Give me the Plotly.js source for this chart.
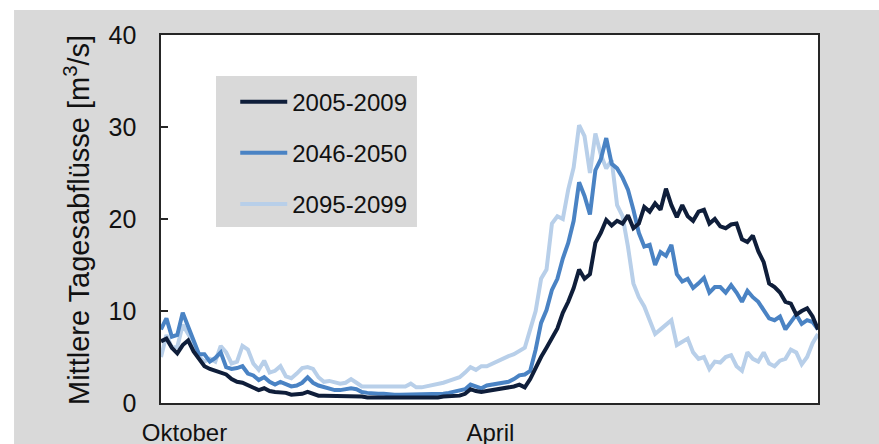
<!DOCTYPE html>
<html>
<head>
<meta charset="utf-8">
<script src="https://cdn.plot.ly/plotly-3.0.1.min.js"></script>
<style>html,body{margin:0;padding:0;background:#fff;}#chart{width:879px;height:444px;}</style>
</head>
<body>
<div id="chart"></div>
<script>
// Day step (every 3rd day of the hydrological year, starting 1 October)
const dayStep = 3;

const seriesNames = ['2005-2009', '2046-2050', '2095-2099'];

const q2005 = [
  6.7, 7.0, 6.0, 5.4, 6.3, 6.8, 5.6, 4.8, 4.0, 3.7,
  3.5, 3.4, 3.1, 2.6, 2.3, 2.2, 1.9, 1.7, 1.4, 1.6,
  1.3, 1.2, 1.2, 1.1, 0.9, 0.9, 1.0, 1.2, 1.0, 0.8,
  0.8, 0.8, 0.8, 0.7, 0.7, 0.8, 0.7, 0.7, 0.6, 0.6,
  0.6, 0.5, 0.5, 0.5, 0.5, 0.5, 0.5, 0.5, 0.5, 0.6,
  0.6, 0.6, 0.7, 0.7, 0.8, 0.8, 1.0, 1.5, 1.3, 1.2,
  1.3, 1.4, 1.5, 1.5, 1.6, 1.8, 2.0, 1.7, 2.6, 3.9,
  5.0, 6.0, 7.0, 8.1, 9.8, 11.0, 12.5, 14.5, 13.5, 14.0,
  17.4, 18.5, 19.9, 19.3, 19.8, 19.5, 20.4, 19.0, 19.5, 21.3,
  20.8, 21.7, 21.0, 23.3, 21.5, 20.2, 21.5, 20.3, 19.8, 20.8,
  21.0, 19.5, 20.0, 19.2, 19.0, 19.4, 19.5, 17.8, 17.5, 18.2,
  16.5, 15.3, 13.0, 12.6, 12.0, 11.0, 10.8, 9.6, 10.0, 10.3,
  9.4, 8.0
];

const q2046 = [
  8.0, 9.2, 7.2, 7.4, 9.8, 8.3, 7.0, 5.3, 5.3, 4.5,
  4.9, 5.5, 3.9, 3.7, 3.8, 4.0, 3.2, 3.0, 2.5, 2.8,
  2.3, 2.0, 2.3, 2.0, 1.8, 1.9, 2.2, 2.8, 2.2, 1.9,
  1.7, 1.6, 1.4, 1.4, 1.5, 1.6, 1.5, 1.2, 1.1, 1.0,
  1.0, 1.0, 0.9, 0.9, 0.9, 0.9, 1.0, 0.9, 0.9, 0.9,
  0.9, 1.0, 1.0, 1.1, 1.2, 1.3, 1.5, 2.0, 1.8, 1.6,
  1.9, 2.0, 2.1, 2.2, 2.3, 2.6, 3.0, 3.1, 3.5, 5.8,
  8.7, 10.1, 12.3, 13.5, 15.7, 17.4, 19.8, 24.0, 22.5, 20.5,
  25.3, 26.5, 28.8, 26.0, 25.5, 24.5, 23.2, 21.0, 18.5, 17.0,
  17.2, 15.0, 16.4, 16.0, 17.2, 14.0, 13.2, 13.5, 12.5, 13.0,
  13.6, 12.0, 12.6, 12.6, 12.0, 12.8, 12.0, 11.0, 12.2, 11.5,
  11.0, 10.1, 9.2, 9.0, 9.4, 8.0, 8.8, 9.6, 8.6, 9.0,
  8.8, 8.0
];

const q2095 = [
  5.0, 7.4, 6.0, 6.1, 8.5, 7.5, 6.5, 5.0, 4.5, 4.8,
  4.5, 6.2, 5.5, 4.3, 4.5, 6.2, 5.8, 4.3, 3.6, 4.6,
  3.3, 3.5, 4.0, 2.9, 2.7, 3.2, 3.8, 3.9, 3.7, 2.8,
  2.3, 2.4, 2.3, 2.1, 2.2, 2.6, 2.2, 1.8, 1.8, 1.8,
  1.8, 1.7, 1.7, 1.8, 1.7, 1.8, 2.1, 1.7, 1.7, 1.8,
  2.0, 2.1, 2.2, 2.4, 2.6, 2.8, 3.3, 3.9, 3.6, 4.0,
  4.0, 4.3, 4.5, 4.9, 5.1, 5.3, 5.6, 6.0, 8.0, 10.0,
  13.5, 14.5, 19.5, 20.3, 20.0, 23.2, 25.6, 30.2, 29.0, 25.0,
  29.3, 27.0, 25.5, 26.4, 21.5, 20.3, 17.0, 13.0, 11.5, 10.5,
  9.0, 7.5, 8.0, 8.5, 9.0, 6.3, 6.6, 7.0, 5.5, 4.8,
  5.0, 3.7, 4.5, 4.4, 5.0, 5.2, 4.0, 3.5, 5.5, 4.8,
  4.5, 5.5, 4.3, 4.0, 4.6, 4.8, 5.8, 5.5, 4.2, 5.0,
  6.5, 7.5
];

const tickDays = [13, 182];
const tickLabels = ['Oktober', 'April'];
const yTicks = [0, 10, 20, 30, 40];
const yTitle = 'Mittlere Tagesabflüsse [m<sup>3</sup>/s]';

const colors = ['#0f1e3a', '#4a83c4', '#b8cfe9'];
const font = 'Arial, "Liberation Sans", sans-serif';

const allSeries = [q2005, q2046, q2095];
const traces = allSeries.map((vals, i) => ({
  type: 'scatter',
  mode: 'lines',
  name: seriesNames[i],
  legendgroup: 'g' + i,
  legendrank: i + 1,
  x: vals.map((_, k) => k * dayStep),
  y: vals,
  line: {color: colors[i], width: 4},
  hoverinfo: 'skip'
}));
// draw darkest on top
const ordered = [traces[2], traces[1], traces[0]];

const layout = {
  width: 879,
  height: 444,
  margin: {l: 161, r: 61, t: 35, b: 41},
  paper_bgcolor: '#d9d9d9',
  plot_bgcolor: '#ffffff',
  font: {family: font, size: 24, color: '#111'},
  showlegend: true,
  legend: {
    x: 0.113, y: 0.879, xanchor: 'left', yanchor: 'top',
    bgcolor: 'rgba(0,0,0,0)',
    font: {family: font, size: 24, color: '#111'},
    traceorder: 'reversed+grouped',
    tracegroupgap: 17,
    itemwidth: 47
  },
  xaxis: {
    range: [0, 363],
    showgrid: false, zeroline: false,
    showline: true, mirror: true, linecolor: '#262626', linewidth: 1.6,
    ticks: '',
    tickmode: 'array', tickvals: tickDays, ticktext: tickLabels,
    tickfont: {family: font, size: 24, color: '#111'},
    ticklabelstandoff: 8
  },
  yaxis: {
    range: [0, 40],
    showgrid: false, zeroline: false,
    showline: true, mirror: true, linecolor: '#262626', linewidth: 1.6,
    ticks: 'inside', ticklen: 7, tickwidth: 1.5, tickcolor: '#262626',
    tickmode: 'array', tickvals: yTicks,
    tickfont: {family: font, size: 25, color: '#111'},
    ticklabelstandoff: 18
  },
  annotations: [
    {text: yTitle, xref: 'paper', yref: 'paper', x: -0.128, y: 0.497, xanchor: 'center', yanchor: 'middle',
     textangle: -90, showarrow: false, font: {family: font, size: 29, color: '#111'}}
  ],
  shapes: [
    {type: 'rect', xref: 'paper', yref: 'paper', x0: -0.3, x1: 1.2, y0: 1.068, y1: 1.2, fillcolor: '#ffffff', line: {width: 0}, layer: 'below'},
    {type: 'rect', xref: 'paper', yref: 'paper', x0: -0.3, x1: -0.2237, y0: -0.2, y1: 1.2, fillcolor: '#ffffff', line: {width: 0}, layer: 'below'},
    {type: 'rect', xref: 'paper', yref: 'paper', x0: 0.0837, x1: 0.3896, y0: 0.478, y1: 0.8886, fillcolor: '#d9d9d9', line: {width: 0}, layer: 'above'}
  ]
};

Plotly.newPlot('chart', ordered, layout, {staticPlot: true, displayModeBar: false});
</script>
</body>
</html>
